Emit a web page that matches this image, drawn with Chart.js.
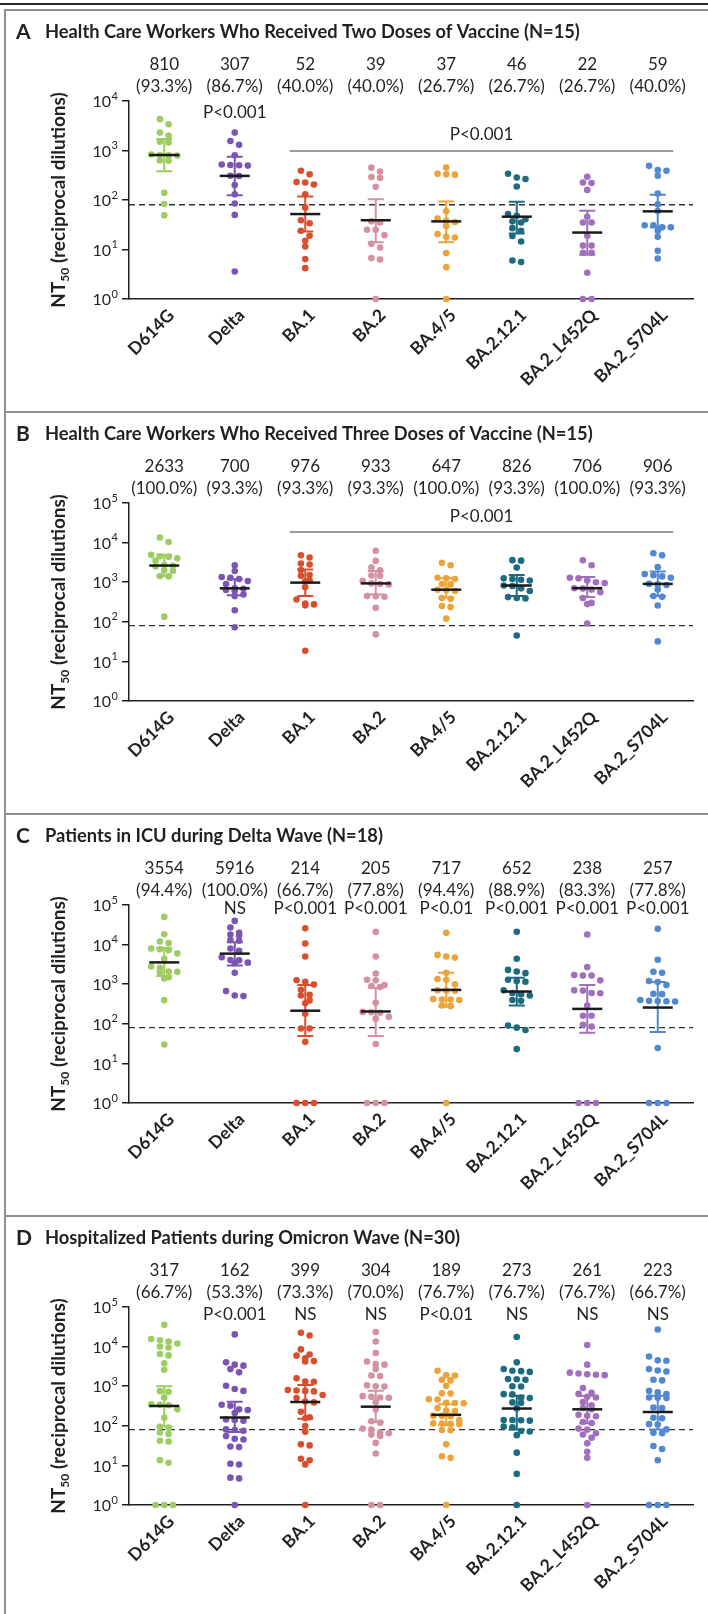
<!DOCTYPE html>
<html lang="en">
<head>
<meta charset="UTF-8">
<title>Neutralizing antibody titers against SARS-CoV-2 variants</title>
<style>
  body {
    margin: 0;
    width: 708px;
    height: 1614px;
    position: relative;
    overflow: hidden;
    background: #fff;
    font-family: Lato, sans-serif;
  }
  .topline {
    position: absolute;
    left: 0; top: 3px;
    width: 708px; height: 2px;
    background: #2b2b2b;
  }
  .panel {
    position: absolute;
    left: 4px;
    width: 704px;
    height: 402px;
    box-sizing: border-box;
    border-top: 2px solid #8f8f8f;
    border-left: 2px solid #8f8f8f;
  }
  canvas {
    position: absolute;
    left: 0;
  }
</style>
<script src="https://cdn.jsdelivr.net/npm/chart.js"></script>
</head>
<body>
<div class="topline"></div>
<div class="panel" style="top:9px"></div>
<div class="panel" style="top:411px"></div>
<div class="panel" style="top:813px"></div>
<div class="panel" style="top:1215px"></div>
<canvas id="chartA" width="708" height="402" style="top:9px"></canvas>
<canvas id="chartB" width="708" height="402" style="top:411px"></canvas>
<canvas id="chartC" width="708" height="402" style="top:813px"></canvas>
<canvas id="chartD" width="708" height="402" style="top:1215px"></canvas>

<script>
  // ---- shared ----
  const categories = ['D614G', 'Delta', 'BA.1', 'BA.2', 'BA.4/5', 'BA.2.12.1', 'BA.2_L452Q', 'BA.2_S704L'];
  const dotColors = ['#9dcc62', '#7b55b6', '#d84f2e', '#d4919f', '#eba33a', '#1e6b80', '#a16fbd', '#5288d1'];
  const detectionLimit = 80;

  // ---- Panel A: two doses, N=15 ----
  const titleA = 'Health Care Workers Who Received Two Doses of Vaccine (N=15)';
  const gmtA = [810, 307, 52, 39, 37, 46, 22, 59];
  const pctA = ['(93.3%)', '(86.7%)', '(40.0%)', '(40.0%)', '(26.7%)', '(26.7%)', '(26.7%)', '(40.0%)'];
  const pTextA = ['', 'P<0.001', '', '', '', '', '', ''];
  const ciLowA = [380, 125, 23, 14, 14, 21, 7.8, 28];
  const ciHighA = [1700, 745, 118, 104, 93, 92, 61, 127];
  const A_D614G = [4300, 3400, 2300, 2000, 1500, 1450, 830, 810, 800, 790, 630, 620, 140, 83, 49];
  const A_Delta = [2300, 1560, 1300, 800, 520, 510, 505, 495, 310, 305, 200, 130, 85, 50, 3.6];
  const A_BA1 = [390, 330, 230, 225, 205, 130, 70, 39, 34, 24, 19, 15, 11.5, 6.4, 4.2];
  const A_BA2 = [450, 375, 290, 280, 185, 37, 35, 25, 25, 19.5, 13, 11, 6.7, 6.3, 1];
  const A_BA45 = [455, 340, 330, 325, 59, 42, 38, 36, 30, 20.5, 18, 17.5, 8.5, 4.4, 1];
  const A_BA2121 = [340, 285, 265, 188, 52, 48, 41, 37, 35, 27, 24, 18.7, 14.5, 6, 5.6];
  const A_L452Q = [295, 225, 220, 160, 46, 35, 35, 19, 12, 12, 8.6, 8.6, 3.4, 1, 1];
  const A_S704L = [490, 405, 390, 310, 135, 82, 60, 31, 31, 28, 28, 24, 18, 9.4, 6.6];

  // ---- Panel B: three doses, N=15 ----
  const titleB = 'Health Care Workers Who Received Three Doses of Vaccine (N=15)';
  const gmtB = [2633, 700, 976, 933, 647, 826, 706, 906];
  const pctB = ['(100.0%)', '(93.3%)', '(93.3%)', '(93.3%)', '(100.0%)', '(93.3%)', '(100.0%)', '(93.3%)'];
  const pTextB = ['', '', '', '', '', '', '', ''];
  const ciLowB = [1440, 470, 445, 490, 405, 445, 420, 445];
  const ciHighB = [4900, 1180, 2100, 1920, 1250, 1520, 1350, 1860];
  const B_D614G = [13500, 10400, 4900, 4500, 4400, 4000, 3500, 2700, 2600, 2500, 2000, 1950, 1440, 1400, 135];
  const B_Delta = [2680, 1910, 1350, 1300, 1200, 1070, 900, 700, 680, 640, 600, 490, 445, 196, 73];
  const B_BA1 = [4800, 4200, 2950, 2800, 2040, 1520, 1450, 1100, 1050, 750, 365, 290, 275, 260, 18.6];
  const B_BA2 = [6200, 3450, 2350, 2000, 1480, 1450, 1070, 933, 900, 880, 445, 440, 430, 225, 48];
  const B_BA45 = [3100, 2680, 1300, 1250, 1200, 900, 880, 647, 630, 600, 400, 380, 250, 235, 120];
  const B_BA2121 = [3600, 3500, 2340, 1250, 1200, 1150, 1100, 826, 800, 700, 600, 420, 400, 390, 45];
  const B_L452Q = [3570, 2680, 1300, 1250, 1100, 1000, 950, 706, 690, 650, 560, 400, 300, 280, 90];
  const B_S704L = [5400, 4800, 2400, 1600, 1500, 1400, 1300, 906, 880, 850, 650, 450, 430, 257, 32];

  // ---- Panel C: ICU, Delta wave, N=18 ----
  const titleC = 'Patients in ICU during Delta Wave (N=18)';
  const gmtC = [3554, 5916, 214, 205, 717, 652, 238, 257];
  const pctC = ['(94.4%)', '(100.0%)', '(66.7%)', '(77.8%)', '(94.4%)', '(88.9%)', '(83.3%)', '(77.8%)'];
  const pTextC = ['', 'NS', 'P<0.001', 'P<0.001', 'P<0.01', 'P<0.001', 'P<0.001', 'P<0.001'];
  const ciLowC = [1600, 2960, 49, 49, 270, 290, 59, 62];
  const ciHighC = [8300, 11500, 950, 810, 1950, 1450, 950, 1130];
  const C_D614G = [50000, 18300, 12000, 11000, 8000, 7600, 7200, 6000, 4300, 2800, 2600, 2100, 2050, 2000, 1500, 1400, 396, 30];
  const C_Delta = [39700, 27000, 20000, 18000, 17000, 13000, 12500, 8000, 7000, 4800, 4100, 4000, 3500, 3400, 1950, 670, 520, 500];
  const C_BA1 = [25700, 10700, 5000, 1260, 1150, 980, 720, 540, 520, 390, 330, 180, 76, 76, 35, 1, 1, 1];
  const C_BA2 = [21000, 5000, 1870, 1300, 1250, 950, 900, 850, 340, 200, 195, 190, 150, 135, 31, 1, 1, 1];
  const C_BA45 = [20000, 5500, 5000, 4700, 1950, 1350, 1300, 1000, 700, 690, 680, 420, 410, 410, 400, 290, 280, 1];
  const C_BA2121 = [21000, 4400, 2300, 2100, 1900, 1300, 1200, 1150, 700, 600, 560, 520, 400, 380, 90, 80, 70, 23];
  const C_L452Q = [18000, 2700, 1700, 1650, 1650, 1250, 700, 690, 600, 590, 290, 160, 160, 95, 85, 1, 1, 1];
  const C_S704L = [25000, 4150, 2050, 1950, 1200, 1130, 950, 570, 560, 400, 380, 375, 370, 365, 24.5, 1, 1, 1];

  // ---- Panel D: hospitalized, Omicron wave, N=30 ----
  const titleD = 'Hospitalized Patients during Omicron Wave (N=30)';
  const gmtD = [317, 162, 399, 304, 189, 273, 261, 223];
  const pctD = ['(66.7%)', '(53.3%)', '(73.3%)', '(70.0%)', '(76.7%)', '(76.7%)', '(76.7%)', '(66.7%)'];
  const pTextD = ['', 'P<0.001', 'NS', 'NS', 'P<0.01', 'NS', 'NS', 'NS'];
  const ciLowD = [96, 70, 150, 125, 103, 81, 116, 81];
  const ciHighD = [1000, 405, 1070, 770, 350, 575, 575, 575];
  const D_D614G = [35600, 15500, 14500, 13500, 12000, 10000, 9500, 6500, 6000, 3800, 2600, 750, 720, 520, 350, 340, 330, 260, 160, 95, 90, 68, 62, 42, 40, 13.5, 11.7, 1, 1, 1];
  const D_Delta = [20300, 4000, 3500, 3300, 2700, 2240, 1030, 850, 760, 340, 320, 260, 250, 210, 145, 140, 135, 81, 78, 75, 55, 47, 45, 30, 29, 11, 10.5, 4.9, 4.7, 1];
  const D_BA1 = [22400, 19000, 8500, 6300, 5900, 5100, 4300, 4200, 1580, 1320, 1300, 800, 780, 760, 740, 600, 500, 410, 390, 225, 165, 155, 99, 71, 34, 32, 14.7, 13.5, 10.6, 1];
  const D_BA2 = [23300, 13500, 6900, 4200, 3600, 3500, 2700, 1860, 1800, 1050, 1000, 980, 560, 540, 520, 510, 400, 260, 130, 120, 85, 80, 68, 65, 60, 55, 37, 20, 1, 1];
  const D_BA45 = [2460, 1900, 1860, 1450, 1400, 1020, 660, 650, 470, 460, 380, 375, 370, 280, 240, 235, 180, 178, 175, 140, 115, 114, 112, 110, 78, 77, 34, 17, 15.5, 1];
  const D_BA2121 = [17400, 4000, 2700, 2460, 2400, 2300, 1520, 1500, 1450, 1000, 980, 630, 620, 520, 500, 390, 380, 275, 140, 140, 138, 135, 96, 92, 74, 72, 58, 21, 6.1, 1];
  const D_L452Q = [11000, 3500, 2200, 2100, 2000, 1950, 1900, 900, 680, 640, 540, 520, 400, 330, 280, 260, 190, 180, 175, 125, 118, 85, 80, 65, 60, 50, 36, 22, 15.6, 1];
  const D_S704L = [27000, 5600, 4500, 4400, 2700, 2500, 2340, 1450, 1400, 760, 700, 630, 520, 510, 500, 290, 280, 160, 155, 110, 108, 81, 67, 65, 31, 26, 13.5, 1, 1, 1];

  // layout of every panel canvas (canvas is 708 x 402)
  const PLOT_LEFT = 129, PLOT_RIGHT = 693, PLOT_TOP = 92, PLOT_BOTTOM = 290;
  const CAT_PX = (PLOT_RIGHT - PLOT_LEFT) / categories.length;
  const DOT_GAP = 8.7;   // horizontal spacing of dots sharing a row
  const ROW_H = 5.5;     // dots closer than this (px) go in one row
  const TEXT = '#231f20';
  const FONT = 'Lato, "DejaVu Sans", sans-serif';

  Chart.defaults.font.family = FONT;
  Chart.defaults.color = TEXT;

  // Prism-like column scatter: group values into rows, spread each row symmetrically
  function swarm(vals, catIndex, pxPerDecade) {
    const sorted = vals.slice().sort((a, b) => b - a);
    const pts = [];
    let row = [];
    let rowStart = 0;
    const flush = () => {
      row.forEach((v, i) => pts.push({x: catIndex + (i - (row.length - 1) / 2) * DOT_GAP / CAT_PX, y: v}));
      row = [];
    };
    sorted.forEach(v => {
      const py = Math.log10(v) * pxPerDecade;
      if (row.length && rowStart - py > ROW_H) flush();
      if (!row.length) rowStart = py;
      row.push(v);
    });
    flush();
    return pts;
  }

  const decor = {
    id: 'decor',
    beforeDatasetsDraw(chart, args, o) {
      const {ctx, chartArea: a, scales: {y}} = chart;
      const yy = y.getPixelForValue(detectionLimit);
      ctx.save();
      ctx.setLineDash([6, 4]);
      ctx.strokeStyle = '#333';
      ctx.lineWidth = 1.4;
      ctx.beginPath();
      ctx.moveTo(a.left, yy);
      ctx.lineTo(a.right, yy);
      ctx.stroke();
      ctx.restore();
    },
    afterDatasetsDraw(chart, args, o) {
      const {ctx, scales: {x, y}} = chart;
      ctx.save();
      o.gmt.forEach((g, i) => {
        const cx = x.getPixelForValue(i);
        const yl = y.getPixelForValue(o.ciLow[i]);
        const yh = y.getPixelForValue(o.ciHigh[i]);
        ctx.strokeStyle = dotColors[i];
        ctx.lineWidth = 2;
        ctx.beginPath();
        ctx.moveTo(cx, yl); ctx.lineTo(cx, yh);
        ctx.moveTo(cx - 8, yl); ctx.lineTo(cx + 8, yl);
        ctx.moveTo(cx - 8, yh); ctx.lineTo(cx + 8, yh);
        ctx.stroke();
        const ym = y.getPixelForValue(g);
        ctx.strokeStyle = '#1a1a1a';
        ctx.lineWidth = 2.5;
        ctx.beginPath();
        ctx.moveTo(cx - 15, ym); ctx.lineTo(cx + 15, ym);
        ctx.stroke();
      });
      ctx.restore();
    },
    afterDraw(chart, args, o) {
      const {ctx, chartArea: a, scales: {x, y}} = chart;
      ctx.save();
      ctx.fillStyle = TEXT;
      ctx.textBaseline = 'middle';

      // panel letter + title
      ctx.textAlign = 'left';
      ctx.font = 'bold 21px ' + FONT;
      ctx.fillText(o.letter, 16, 23);
      ctx.font = 'bold 18.3px ' + FONT;
      ctx.fillText(o.title, 45, 23);

      // GMT, percentage and P value above each column
      ctx.textAlign = 'center';
      ctx.font = '17px ' + FONT;
      categories.forEach((c, i) => {
        const cx = x.getPixelForValue(i);
        ctx.fillText(String(o.gmt[i]), cx, 56);
        ctx.fillText(o.pct[i], cx, 77.5);
        if (o.pText[i]) ctx.fillText(o.pText[i], cx, o.pTextY);
      });

      // bracket line with overall P value
      if (o.bar) {
        const x1 = x.getPixelForValue(o.bar.from), x2 = x.getPixelForValue(o.bar.to);
        const yb = y.getPixelForValue(o.bar.value);
        ctx.strokeStyle = '#7a7a7a';
        ctx.lineWidth = 1.5;
        ctx.beginPath();
        ctx.moveTo(x1, yb); ctx.lineTo(x2, yb);
        ctx.stroke();
        ctx.fillText(o.bar.text, (x1 + x2) / 2, yb - 16);
      }

      // y tick labels 10^n
      for (let p = 0; p <= o.decades; p++) {
        const py = y.getPixelForValue(Math.pow(10, p));
        ctx.font = '11px ' + FONT;
        const sw = ctx.measureText(String(p)).width;
        ctx.textAlign = 'left';
        ctx.fillText(String(p), 118 - sw, py - 5);
        ctx.font = '16px ' + FONT;
        ctx.textAlign = 'right';
        ctx.fillText('10', 118 - sw - 0.5, py + 1);
      }

      // y axis title with subscript
      ctx.translate(58, (a.top + a.bottom) / 2);
      ctx.rotate(-Math.PI / 2);
      ctx.textAlign = 'left';
      ctx.textBaseline = 'alphabetic';
      const big = 'bold 19px ' + FONT, small = 'bold 12px ' + FONT;
      const rest = ' (reciprocal dilutions)';
      ctx.font = big; const w1 = ctx.measureText('NT').width, w3 = ctx.measureText(rest).width;
      ctx.font = small; const w2 = ctx.measureText('50').width;
      let sx = -(w1 + w2 + w3) / 2;
      ctx.font = big; ctx.fillText('NT', sx, 7);
      ctx.font = small; ctx.fillText('50', sx + w1, 11);
      ctx.font = big; ctx.fillText(rest, sx + w1 + w2, 7);
      ctx.restore();
    }
  };

  function makePanel(id, cfg) {
    const pxPerDecade = (PLOT_BOTTOM - PLOT_TOP) / cfg.decades;
    const datasets = cfg.values.map((vals, i) => ({
      label: categories[i],
      data: swarm(vals, i, pxPerDecade),
      backgroundColor: dotColors[i],
      borderWidth: 0,
      pointRadius: 3.3,
      pointHoverRadius: 3.3,
      clip: false
    }));
    new Chart(document.getElementById(id), {
      type: 'scatter',
      data: {datasets},
      plugins: [decor],
      options: {
        responsive: false,
        animation: false,
        events: [],
        layout: {padding: {left: 0, right: 708 - PLOT_RIGHT, top: PLOT_TOP, bottom: 0}},
        plugins: {
          legend: {display: false},
          tooltip: {enabled: false},
          decor: cfg
        },
        scales: {
          x: {
            type: 'linear',
            min: -0.5,
            max: categories.length - 0.5,
            afterBuildTicks: axis => { axis.ticks = categories.map((c, i) => ({value: i})); },
            afterFit: axis => { axis.height = 402 - PLOT_BOTTOM; },
            grid: {display: false, drawTicks: false},
            border: {display: true, color: TEXT, width: 1.5},
            ticks: {
              autoSkip: false,
              minRotation: 45,
              maxRotation: 45,
              padding: 6,
              labelOffset: 7,
              color: TEXT,
              font: {size: 17.5, weight: 'bold'},
              callback: v => categories[Math.round(v)]
            }
          },
          y: {
            type: 'logarithmic',
            min: 1,
            max: Math.pow(10, cfg.decades),
            afterBuildTicks: axis => {
              axis.ticks = [];
              for (let p = 0; p <= cfg.decades; p++) axis.ticks.push({value: Math.pow(10, p)});
            },
            afterFit: axis => { axis.width = PLOT_LEFT; },
            grid: {display: true, drawOnChartArea: false, drawTicks: true, tickLength: 7, color: TEXT, lineWidth: 1.5},
            border: {display: true, color: TEXT, width: 1.5},
            ticks: {display: false}
          }
        }
      }
    });
  }

  makePanel('chartA', {
    letter: 'A', title: titleA, decades: 4,
    values: [A_D614G, A_Delta, A_BA1, A_BA2, A_BA45, A_BA2121, A_L452Q, A_S704L],
    gmt: gmtA, pct: pctA, pText: pTextA, pTextY: 104, ciLow: ciLowA, ciHigh: ciHighA,
    bar: {from: 1.78, to: 7.22, value: 980, text: 'P<0.001'}
  });
  makePanel('chartB', {
    letter: 'B', title: titleB, decades: 5,
    values: [B_D614G, B_Delta, B_BA1, B_BA2, B_BA45, B_BA2121, B_L452Q, B_S704L],
    gmt: gmtB, pct: pctB, pText: pTextB, pTextY: 100, ciLow: ciLowB, ciHigh: ciHighB,
    bar: {from: 1.78, to: 7.22, value: 18500, text: 'P<0.001'}
  });
  makePanel('chartC', {
    letter: 'C', title: titleC, decades: 5,
    values: [C_D614G, C_Delta, C_BA1, C_BA2, C_BA45, C_BA2121, C_L452Q, C_S704L],
    gmt: gmtC, pct: pctC, pText: pTextC, pTextY: 96, ciLow: ciLowC, ciHigh: ciHighC,
    bar: null
  });
  makePanel('chartD', {
    letter: 'D', title: titleD, decades: 5,
    values: [D_D614G, D_Delta, D_BA1, D_BA2, D_BA45, D_BA2121, D_L452Q, D_S704L],
    gmt: gmtD, pct: pctD, pText: pTextD, pTextY: 100, ciLow: ciLowD, ciHigh: ciHighD,
    bar: null
  });
</script>
</body>
</html>
